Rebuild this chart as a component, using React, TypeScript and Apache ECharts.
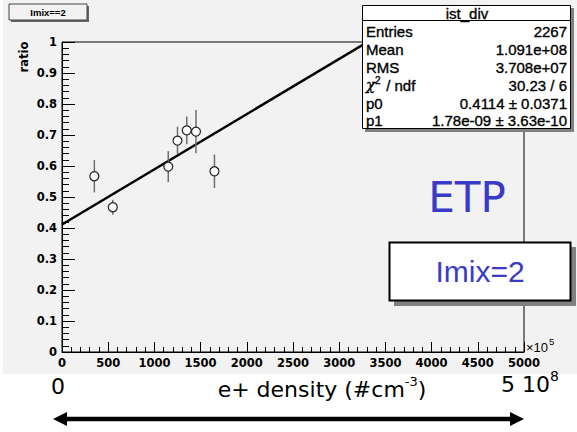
import React, { useEffect, useRef } from "react";
import * as echarts from "echarts";

// measured points (x in units of 1e5 cm^-3)
const xVals = [350, 550, 1150, 1250, 1350, 1450, 1650];
const yVals = [0.567, 0.467, 0.598, 0.682, 0.715, 0.711, 0.583];
const yErrs = [0.052, 0.024, 0.05, 0.045, 0.045, 0.07, 0.054];

// linear fit parameters (p0 + p1 * x[real units])
const fitP0 = 0.4114;
const fitP1 = 1.78e-9;
const xUnit = 1e5;
const xRange = [0, 5000];
const yRange = [0, 1];

// stats box
const statTitle = "ist_div";
const statLabels = ["Entries", "Mean", "RMS", "CHI", "p0", "p1"];
const statValues = ["2267", "1.091e+08", "3.708e+07", "30.23 / 6", "0.4114 \u00b1 0.0371", "1.78e-09 \u00b1 3.63e-10"];

const HELV = "'Liberation Sans', Arial, sans-serif";
const DEJ = "'DejaVu Sans', sans-serif";

export default function App() {
  const ref = useRef<HTMLDivElement>(null);
  useEffect(() => {
    if (!ref.current) return;
    const chart = echarts.init(ref.current, null, { renderer: "svg" });

    const scatterData = xVals.map((x, i) => [x, yVals[i]]);
    const errData = xVals.map((x, i) => [x, yVals[i] - yErrs[i], yVals[i] + yErrs[i]]);
    const fitData = xRange.map((x) => [x, fitP0 + fitP1 * x * xUnit]);

    const statFont = { fontSize: 15, fontFamily: HELV, fill: "#000", stroke: "#000", lineWidth: 0.35 };
    const statRowsY = [31, 49, 67, 85, 103, 120];
    const statGraphics: any[] = [];
    statLabels.forEach((lab, i) => {
      const y = statRowsY[i];
      if (lab === "CHI") {
        statGraphics.push(
          { type: "text", x: 366, y, z: 102, style: { ...statFont, text: "\u03c7", fontFamily: "'DejaVu Serif', serif", fontStyle: "italic", align: "left", textAlign: "left", verticalAlign: "middle", textVerticalAlign: "middle" } },
          { type: "text", x: 375, y: y - 5, z: 102, style: { ...statFont, text: "2", fontSize: 10, align: "left", textAlign: "left", verticalAlign: "middle", textVerticalAlign: "middle" } },
          { type: "text", x: 382, y, z: 102, style: { ...statFont, text: " / ndf", align: "left", textAlign: "left", verticalAlign: "middle", textVerticalAlign: "middle" } }
        );
      } else {
        statGraphics.push({ type: "text", x: 366, y, z: 102, style: { ...statFont, text: lab, align: "left", textAlign: "left", verticalAlign: "middle", textVerticalAlign: "middle" } });
      }
      statGraphics.push({ type: "text", x: 567, y, z: 102, style: { ...statFont, text: statValues[i], align: "right", textAlign: "right", verticalAlign: "middle", textVerticalAlign: "middle" } });
    });

    const option: any = {
      animation: false,
      backgroundColor: "#ffffff",
      grid: { left: 62, right: 53, top: 42, bottom: 80, show: true, borderColor: "#000", borderWidth: 1, backgroundColor: "transparent" },
      xAxis: {
        type: "value",
        min: xRange[0],
        max: xRange[1],
        interval: 500,
        axisLine: { show: true, onZero: false, lineStyle: { color: "#000", width: 1 } },
        axisTick: { show: true, inside: true, length: 10, lineStyle: { color: "#000" } },
        minorTick: { show: true, splitNumber: 5, length: 5, lineStyle: { color: "#000" } },
        splitLine: { show: false },
        axisLabel: { fontFamily: DEJ, fontWeight: "bold", fontSize: 11.5, color: "#000", margin: 5, formatter: (v: number) => String(v) },
      },
      yAxis: {
        type: "value",
        min: yRange[0],
        max: yRange[1],
        interval: 0.1,
        axisLine: { show: true, onZero: false, lineStyle: { color: "#000", width: 1 } },
        axisTick: { show: true, inside: true, length: 13, lineStyle: { color: "#000" } },
        minorTick: { show: true, splitNumber: 5, length: 7, lineStyle: { color: "#000" } },
        splitLine: { show: false },
        axisLabel: { fontFamily: DEJ, fontWeight: "bold", fontSize: 11.5, color: "#000", margin: 5 },
      },
      series: [
        {
          type: "line",
          data: fitData,
          showSymbol: false,
          clip: true,
          lineStyle: { color: "#000", width: 2.5 },
          z: 2,
        },
        {
          type: "custom",
          data: errData,
          z: 3,
          renderItem: (params: any, api: any) => {
            const lo = api.coord([api.value(0), api.value(1)]);
            const hi = api.coord([api.value(0), api.value(2)]);
            return {
              type: "line",
              shape: { x1: lo[0], y1: lo[1], x2: hi[0], y2: hi[1] },
              style: { stroke: "#6e6e6e", lineWidth: 1.5 },
            };
          },
        },
        {
          type: "scatter",
          data: scatterData,
          symbol: "circle",
          symbolSize: 9,
          z: 4,
          itemStyle: { color: "#ffffff", borderColor: "#222", borderWidth: 1.2, opacity: 1 },
        },
      ],
      graphic: [
        // canvas background
        { type: "rect", z: -10, silent: true, shape: { x: 3, y: 0, width: 574, height: 374 }, style: { fill: "#f2f2f2" } },
        // Imix==2 title box
        { type: "rect", z: 100, shape: { x: 11, y: 6, width: 78, height: 16 }, style: { fill: "#666" } },
        { type: "rect", z: 101, shape: { x: 9, y: 4, width: 78, height: 16 }, style: { fill: "#f2f2f2", stroke: "#444", lineWidth: 1 } },
        { type: "text", x: 48, y: 12, z: 102, style: { text: "Imix==2", fontSize: 9.5, fontWeight: "bold", fontFamily: HELV, fill: "#000", align: "center", textAlign: "center", verticalAlign: "middle", textVerticalAlign: "middle" } },
        // ratio axis title
        { type: "text", x: 24, y: 57, rotation: Math.PI / 2, z: 102, style: { text: "ratio", fontSize: 11.5, fontWeight: "bold", fontFamily: DEJ, fill: "#000", align: "center", textAlign: "center", verticalAlign: "middle", textVerticalAlign: "middle" } },
        // x10^5
        { type: "text", x: 526, y: 347, z: 102, style: { text: "\u00d710", fontSize: 13, fontFamily: HELV, fill: "#000", align: "left", textAlign: "left", verticalAlign: "middle", textVerticalAlign: "middle" } },
        { type: "text", x: 549, y: 341, z: 102, style: { text: "5", fontSize: 9.5, fontFamily: HELV, fill: "#000", align: "left", textAlign: "left", verticalAlign: "middle", textVerticalAlign: "middle" } },
        // stats box
        { type: "rect", z: 100, shape: { x: 365, y: 8, width: 209, height: 124 }, style: { fill: "#808080" } },
        { type: "rect", z: 101, shape: { x: 362.5, y: 5.5, width: 208, height: 123 }, style: { fill: "#ffffff", stroke: "#000", lineWidth: 1 } },
        { type: "line", z: 102, shape: { x1: 362.5, y1: 20.5, x2: 570.5, y2: 20.5 }, style: { stroke: "#000", lineWidth: 1 } },
        { type: "text", x: 467, y: 13, z: 102, style: { ...statFont, text: statTitle, align: "center", textAlign: "center", verticalAlign: "middle", textVerticalAlign: "middle" } },
        ...statGraphics,
        // ETP
        { type: "text", x: 467, y: 197, z: 102, style: { text: "ETP", fontSize: 42, fontFamily: DEJ, fill: "#3a3ac8", align: "center", textAlign: "center", verticalAlign: "middle", textVerticalAlign: "middle" } },
        // Imix=2 box
        { type: "rect", z: 100, shape: { x: 394, y: 247, width: 182, height: 59 }, style: { fill: "#808080" } },
        { type: "rect", z: 101, shape: { x: 389.5, y: 242.5, width: 181, height: 58 }, style: { fill: "#ffffff", stroke: "#000", lineWidth: 2 } },
        { type: "text", x: 480, y: 271, z: 102, style: { text: "Imix=2", fontSize: 30, fontFamily: HELV, fill: "#3a3ac8", align: "center", textAlign: "center", verticalAlign: "middle", textVerticalAlign: "middle" } },
        // bottom annotations
        { type: "text", x: 58, y: 386, z: 102, style: { text: "0", fontSize: 22, fontFamily: DEJ, fill: "#000", align: "center", textAlign: "center", verticalAlign: "middle", textVerticalAlign: "middle" } },
        {
          type: "text", x: 322, y: 389, z: 102,
          style: {
            text: "{m|e+ density (#cm}{s|-3}{m|)}",
            fill: "#000", align: "center", textAlign: "center", verticalAlign: "middle", textVerticalAlign: "middle",
            rich: {
              m: { fontSize: 22, fontFamily: DEJ, lineHeight: 28, fill: "#000", color: "#000" },
              s: { fontSize: 13, fontFamily: DEJ, lineHeight: 14, verticalAlign: "top", fill: "#000", color: "#000" },
            },
          },
        },
        {
          type: "text", x: 530, y: 384, z: 102,
          style: {
            text: "{m|5 10}{s|8}",
            fill: "#000", align: "center", textAlign: "center", verticalAlign: "middle", textVerticalAlign: "middle",
            rich: {
              m: { fontSize: 22, fontFamily: DEJ, lineHeight: 30, fill: "#000", color: "#000" },
              s: { fontSize: 14, fontFamily: DEJ, lineHeight: 15, verticalAlign: "top", fill: "#000", color: "#000" },
            },
          },
        },
        // double arrow
        { type: "line", z: 102, shape: { x1: 64, y1: 419, x2: 512, y2: 419 }, style: { stroke: "#000", lineWidth: 4.5 } },
        { type: "polygon", z: 102, shape: { points: [[53, 419], [67, 412], [67, 426]] }, style: { fill: "#000" } },
        { type: "polygon", z: 102, shape: { points: [[524, 419], [510, 412], [510, 426]] }, style: { fill: "#000" } },
      ],
    };
    chart.setOption(option);
    return () => chart.dispose();
  }, []);
  return <div ref={ref} style={{ position: "absolute", left: 0, top: 0, width: 577, height: 432 }} />;
}
